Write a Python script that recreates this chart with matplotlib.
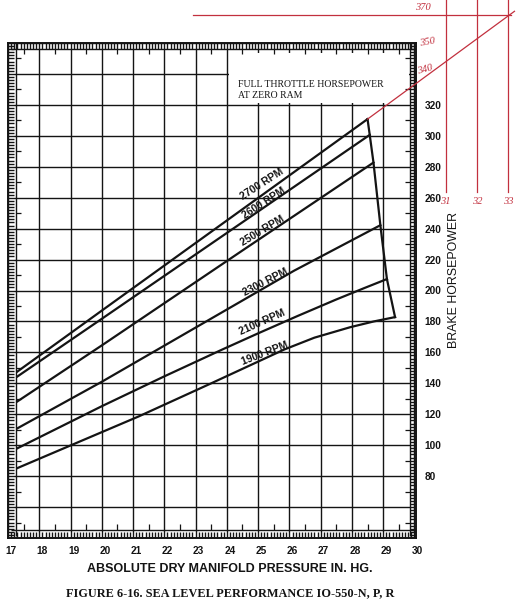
import matplotlib
matplotlib.use("Agg")
import matplotlib.pyplot as plt
import matplotlib.transforms as mtransforms
from matplotlib.patches import Rectangle
from matplotlib.ticker import MultipleLocator
import numpy as np

# 数据: 进气压力 in.Hg -> 制动马力
mp_2700 = [17.3, 20.0, 28.5]
hp_2700 = [147.6, 187.0, 310.8]
mp_2600 = [17.3, 20.0, 28.57]
hp_2600 = [144.4, 181.7, 300.6]
mp_2500 = [17.3, 20.0, 24.56, 28.69]
hp_2500 = [128.3, 164.5, 226.7, 282.7]
mp_2300 = [17.3, 20.0, 26.15, 28.91]
hp_2300 = [110.9, 141.0, 212.8, 242.2]
mp_2100 = [17.3, 20.0, 22.0, 23.87, 25.0, 26.26, 27.5, 28.4, 29.12]
hp_2100 = [98.0, 125.2, 144.5, 162.0, 172.3, 183.5, 194.2, 201.6, 207.4]
mp_1900 = [17.3, 21.17, 23.5, 25.83, 26.8, 27.95, 28.7, 29.38]
hp_1900 = [85.2, 118.5, 140.0, 161.8, 169.5, 176.3, 180.0, 182.8]

rpm_names = ["2700 RPM", "2600 RPM", "2500 RPM", "2300 RPM", "2100 RPM", "1900 RPM"]
label_x = [25.14, 25.2, 25.14, 25.25, 25.14, 25.2]
label_y = [268.6, 256.8, 238.5, 205.3, 179.6, 159.2]
label_rot = [33, 33, 31, 27, 24, 21]

x_ticks = list(range(17, 31))
y_ticks = list(range(40, 361, 20))
y_labels = [str(v) if 80 <= v <= 320 else "" for v in y_ticks]

# 手写的红色延长线
red_diag_x = [28.5, 33.2]
red_diag_y = [310.8, 380.5]
red_hline_x = [22.93, 33.1]
red_hline_y = 378.0
red_vline_x = [31, 32, 33]
red_vline_y = [263.4, 387.6]
red_notes = ["370", "350", "340"]
red_notes_x = [30.27, 30.4, 30.34]
red_notes_y = [382.9, 360.6, 342.6]

ink = "#141414"
red = "#c2303e"

fig = plt.figure(figsize=(5.24, 6.03), dpi=100)
ax = fig.add_axes([8 / 524, 1 - 538 / 603, 408 / 524, 495 / 603])
ax.set_xlim(17.08, 30.05)
ax.set_ylim(41.5, 360)
ax.set_axisbelow(True)

ax.set_xticks(x_ticks)
ax.set_yticks(y_ticks)
ax.set_yticklabels(y_labels)
ax.yaxis.tick_right()
ax.grid(True, color=ink, lw=1.0)
for s in ax.spines.values():
    s.set_color(ink)
    s.set_linewidth(1.4)

# 梯形刻度
ax.xaxis.set_minor_locator(MultipleLocator(0.1))
ax.yaxis.set_minor_locator(MultipleLocator(2))
ax.tick_params(which="minor", direction="in", length=4.3, width=1.0, color=ink,
               top=True, bottom=True, left=True, right=True)
ax.tick_params(which="major", length=0, pad=6, labelsize=7.3, labelcolor=ink,
               labelleft=False, labelright=True)
for lab in ax.get_xticklabels() + ax.get_yticklabels():
    lab.set_fontweight("bold")
    lab.set_family("Liberation Sans")
off = mtransforms.ScaledTranslation(3.0 / 100, 0, fig.dpi_scale_trans)
for lab in ax.get_xticklabels():
    lab.set_transform(lab.get_transform() + off)

dx = 6 / 31.45
dy = 6 / 1.554
ax.hlines([360 - dy], 17.08, 30.05, color=ink, lw=1.0)
ax.hlines([41.5 + dy], 17.08, 30.05, color=ink, lw=1.0)
ax.vlines([17.08 + dx], 41.5, 360, color=ink, lw=1.0)
ax.vlines([30.05 - dx], 41.5, 360, color=ink, lw=1.0)
half_x = np.arange(17.5, 30, 1)
half_y = np.arange(50, 360, 20)
ax.vlines(half_x, 360 - dy - 3.5, 360 - dy, color=ink, lw=0.9)
ax.vlines(half_x, 41.5 + dy, 41.5 + dy + 3.5, color=ink, lw=0.9)
ax.hlines(half_y, 17.08 + dx, 17.08 + dx + 0.15, color=ink, lw=0.9)
ax.hlines(half_y, 30.05 - dx - 0.15, 30.05 - dx, color=ink, lw=0.9)

# 文字背后的白框
ax.add_patch(Rectangle((24.07, 321.5), 5.75, 32.0, facecolor="white", edgecolor="none", zorder=1))
ax.text(24.36, 335.8, "FULL THROTTLE HORSEPOWER\nAT ZERO RAM", family="Liberation Serif",
        fontsize=7, color=ink, va="top", ha="left", linespacing=1.25, zorder=3)

curves = [(mp_2700, hp_2700), (mp_2600, hp_2600), (mp_2500, hp_2500),
          (mp_2300, hp_2300), (mp_2100, hp_2100), (mp_1900, hp_1900)]
for (mx, hy), name, lx, ly, rot in zip(curves, rpm_names, label_x, label_y, label_rot):
    ax.plot(mx, hy, color=ink, lw=1.6, zorder=3)
    ax.text(lx, ly, name, rotation=rot, ha="center", va="center", fontsize=7.5,
            fontweight="bold", family="Liberation Sans", color=ink, zorder=3,
            rotation_mode="anchor")

# 全油门线连接各曲线端点
ft_x = [c[0][-1] for c in curves]
ft_y = [c[1][-1] for c in curves]
ax.plot(ft_x, ft_y, color=ink, lw=1.6, zorder=3)

# 红色手绘
ax.plot(red_diag_x, red_diag_y, color=red, lw=0.9, clip_on=False, zorder=4)
ax.plot(red_hline_x, [red_hline_y, red_hline_y], color=red, lw=0.9, clip_on=False, zorder=4)
for vx in red_vline_x:
    ax.plot([vx, vx], red_vline_y, color=red, lw=0.9, clip_on=False, zorder=4)
    ax.text(vx, 257.6, str(vx), color=red, fontsize=7.5, ha="center", va="center",
            family="Liberation Serif", style="italic")
for t, tx, ty, r in zip(red_notes, red_notes_x, red_notes_y, [0, 10, 15]):
    ax.text(tx, ty, t, color=red, fontsize=7.5, ha="center", va="center",
            family="Liberation Serif", style="italic", rotation=r)

fig.text(454 / 524, 1 - 280 / 603, "BRAKE HORSEPOWER", rotation=90, ha="center", va="center",
         fontsize=8.9, family="Liberation Sans", color=ink)
fig.text(229.5 / 524, 1 - 569 / 603, "ABSOLUTE DRY MANIFOLD PRESSURE IN. HG.", ha="center",
         va="center", fontsize=9, fontweight="bold", family="Liberation Sans", color=ink)
fig.text(230 / 524, 1 - 593 / 603, "FIGURE 6-16. SEA LEVEL PERFORMANCE IO-550-N, P, R",
         ha="center", va="center", fontsize=8.8, fontweight="bold", family="Liberation Serif",
         color=ink)

fig.savefig("out.png", dpi=100)
